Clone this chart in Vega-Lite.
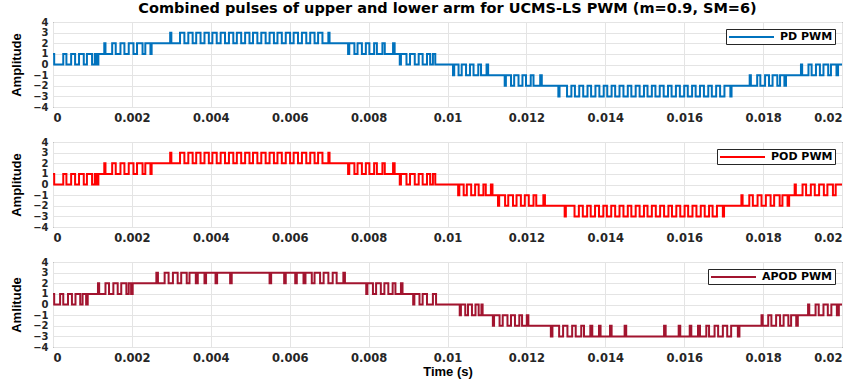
{
  "$schema": "https://vega.github.io/schema/vega-lite/v6.json",
  "autosize": {"type": "pad"},
  "padding": {"left": 10, "top": 0, "right": 3, "bottom": 3},
  "background": "white",
  "spacing": 35,
  "bounds": "flush",
  "resolve": {"scale": {"color": "independent"}, "legend": {"color": "independent"}},
  "config": {
    "view": {"stroke": "#262626", "strokeWidth": 1},
    "axis": {
      "labelFont": "DejaVu Sans", "labelFontWeight": "bold", "labelFontSize": 11.5, "labelColor": "#262626", "labelOverlap": false,
      "titleFont": "Liberation Sans", "titleFontWeight": "bold", "titleFontSize": 13, "titleColor": "#000000",
      "gridColor": "#e4e4e4", "gridWidth": 1, "domain": false, "ticks": false, "labelPadding": 5
    },
    "axisY": {"labelFontSize": 10, "labelPadding": 5},
    "legend": {
      "orient": "top-right", "offset": 7, "title": null,
      "strokeColor": "#262626", "fillColor": "white", "padding": 2, "cornerRadius": 0,
      "symbolType": "M-1,0H8", "symbolSize": 100, "symbolStrokeWidth": 2,
      "labelFont": "DejaVu Sans", "labelFontWeight": "bold", "labelFontSize": 11, "labelColor": "#000000", "labelOffset": 40
    },
    "title": {"font": "DejaVu Sans", "fontSize": 14.5, "fontWeight": "bold", "color": "#000000", "anchor": "middle", "offset": 1}
  },
  "datasets": {
    "pd": [
      {"t":0,"v":1},{"t":0.00003,"v":0},{"t":0.00026,"v":1},{"t":0.00034,"v":0},{"t":0.00046,"v":1},{"t":0.00056,"v":0},
      {"t":0.00066,"v":1},{"t":0.00078,"v":0},{"t":0.00086,"v":1},{"t":0.00099,"v":0},{"t":0.00106,"v":1},{"t":0.00111,"v":0},{"t":0.00115,"v":1},
      {"t":0.0013,"v":2},{"t":0.00133,"v":1},{"t":0.0015,"v":2},{"t":0.00159,"v":1},{"t":0.00171,"v":2},{"t":0.00181,"v":1},
      {"t":0.00192,"v":2},{"t":0.00204,"v":1},{"t":0.00213,"v":2},{"t":0.00227,"v":1},{"t":0.00234,"v":2},{"t":0.00247,"v":1},{"t":0.0025,"v":2},
      {"t":0.00297,"v":3},{"t":0.003,"v":2},
      {"t":0.00322,"v":3},{"t":0.00333,"v":2},{"t":0.00343,"v":3},{"t":0.00354,"v":2},{"t":0.00363,"v":3},{"t":0.00374,"v":2},
      {"t":0.00384,"v":3},{"t":0.00395,"v":2},{"t":0.00404,"v":3},{"t":0.00415,"v":2},{"t":0.00425,"v":3},{"t":0.00436,"v":2},
      {"t":0.00446,"v":3},{"t":0.00457,"v":2},{"t":0.00466,"v":3},{"t":0.00477,"v":2},{"t":0.00487,"v":3},{"t":0.00498,"v":2},
      {"t":0.00507,"v":3},{"t":0.00518,"v":2},{"t":0.00528,"v":3},{"t":0.00539,"v":2},{"t":0.00549,"v":3},{"t":0.0056,"v":2},
      {"t":0.00569,"v":3},{"t":0.0058,"v":2},{"t":0.0059,"v":3},{"t":0.00601,"v":2},{"t":0.0061,"v":3},{"t":0.00621,"v":2},
      {"t":0.00631,"v":3},{"t":0.00642,"v":2},{"t":0.00652,"v":3},{"t":0.00663,"v":2},{"t":0.00672,"v":3},{"t":0.00683,"v":2},
      {"t":0.00698,"v":3},{"t":0.00701,"v":2},
      {"t":0.00748,"v":1},{"t":0.00751,"v":2},{"t":0.00764,"v":1},{"t":0.00772,"v":2},{"t":0.00783,"v":1},{"t":0.00793,"v":2},
      {"t":0.00802,"v":1},{"t":0.00814,"v":2},{"t":0.00821,"v":1},{"t":0.00835,"v":2},{"t":0.00841,"v":1},{"t":0.00862,"v":2},{"t":0.00866,"v":1},
      {"t":0.00879,"v":0},{"t":0.00882,"v":1},{"t":0.00896,"v":0},{"t":0.00905,"v":1},{"t":0.00917,"v":0},{"t":0.00927,"v":1},
      {"t":0.00937,"v":0},{"t":0.00948,"v":1},{"t":0.00956,"v":0},{"t":0.00963,"v":1},{"t":0.00969,"v":0},
      {"t":0.01014,"v":-1},{"t":0.01017,"v":0},{"t":0.01028,"v":-1},{"t":0.01036,"v":0},{"t":0.01047,"v":-1},{"t":0.01057,"v":0},
      {"t":0.01066,"v":-1},{"t":0.01078,"v":0},{"t":0.01085,"v":-1},{"t":0.01099,"v":0},{"t":0.01103,"v":-1},
      {"t":0.01145,"v":-2},{"t":0.01148,"v":-1},{"t":0.01161,"v":-2},{"t":0.01169,"v":-1},{"t":0.0118,"v":-2},{"t":0.0119,"v":-1},
      {"t":0.01199,"v":-2},{"t":0.01211,"v":-1},{"t":0.01218,"v":-2},{"t":0.01235,"v":-1},{"t":0.01239,"v":-2},
      {"t":0.01281,"v":-3},{"t":0.01284,"v":-2},
      {"t":0.01303,"v":-3},{"t":0.01314,"v":-2},{"t":0.01323,"v":-3},{"t":0.01334,"v":-2},{"t":0.01344,"v":-3},{"t":0.01355,"v":-2},
      {"t":0.01364,"v":-3},{"t":0.01375,"v":-2},{"t":0.01385,"v":-3},{"t":0.01396,"v":-2},{"t":0.01405,"v":-3},{"t":0.01416,"v":-2},
      {"t":0.01425,"v":-3},{"t":0.01436,"v":-2},{"t":0.01446,"v":-3},{"t":0.01457,"v":-2},{"t":0.01466,"v":-3},{"t":0.01477,"v":-2},
      {"t":0.01487,"v":-3},{"t":0.01498,"v":-2},{"t":0.01507,"v":-3},{"t":0.01518,"v":-2},{"t":0.01527,"v":-3},{"t":0.01538,"v":-2},
      {"t":0.01548,"v":-3},{"t":0.01559,"v":-2},{"t":0.01568,"v":-3},{"t":0.01579,"v":-2},{"t":0.01589,"v":-3},{"t":0.016,"v":-2},
      {"t":0.01609,"v":-3},{"t":0.0162,"v":-2},{"t":0.01629,"v":-3},{"t":0.0164,"v":-2},{"t":0.0165,"v":-3},{"t":0.01661,"v":-2},
      {"t":0.0167,"v":-3},{"t":0.01681,"v":-2},{"t":0.01691,"v":-3},{"t":0.01702,"v":-2},
      {"t":0.01717,"v":-3},{"t":0.0172,"v":-2},
      {"t":0.01766,"v":-1},{"t":0.01769,"v":-2},{"t":0.01785,"v":-1},{"t":0.01793,"v":-2},{"t":0.01805,"v":-1},{"t":0.01815,"v":-2},
      {"t":0.01824,"v":-1},{"t":0.01836,"v":-2},{"t":0.01843,"v":-1},{"t":0.01854,"v":-2},{"t":0.01858,"v":-1},
      {"t":0.01896,"v":0},{"t":0.01899,"v":-1},{"t":0.01915,"v":0},{"t":0.01923,"v":-1},{"t":0.01934,"v":0},{"t":0.01944,"v":-1},
      {"t":0.01953,"v":0},{"t":0.01965,"v":-1},{"t":0.01972,"v":0},{"t":0.01986,"v":-1},{"t":0.0199,"v":0},{"t":0.02,"v":0}
    ],
    "pod": [
      {"t":0,"v":1},{"t":0.00003,"v":0},{"t":0.00026,"v":1},{"t":0.00034,"v":0},{"t":0.00046,"v":1},{"t":0.00056,"v":0},
      {"t":0.00066,"v":1},{"t":0.00078,"v":0},{"t":0.00086,"v":1},{"t":0.00099,"v":0},{"t":0.00106,"v":1},{"t":0.00111,"v":0},{"t":0.00115,"v":1},
      {"t":0.0013,"v":2},{"t":0.00133,"v":1},{"t":0.0015,"v":2},{"t":0.00159,"v":1},{"t":0.00171,"v":2},{"t":0.00181,"v":1},
      {"t":0.00192,"v":2},{"t":0.00204,"v":1},{"t":0.00213,"v":2},{"t":0.00227,"v":1},{"t":0.00234,"v":2},{"t":0.00247,"v":1},{"t":0.0025,"v":2},
      {"t":0.00297,"v":3},{"t":0.003,"v":2},
      {"t":0.00322,"v":3},{"t":0.00333,"v":2},{"t":0.00343,"v":3},{"t":0.00354,"v":2},{"t":0.00363,"v":3},{"t":0.00374,"v":2},
      {"t":0.00384,"v":3},{"t":0.00395,"v":2},{"t":0.00404,"v":3},{"t":0.00415,"v":2},{"t":0.00425,"v":3},{"t":0.00436,"v":2},
      {"t":0.00446,"v":3},{"t":0.00457,"v":2},{"t":0.00466,"v":3},{"t":0.00477,"v":2},{"t":0.00487,"v":3},{"t":0.00498,"v":2},
      {"t":0.00507,"v":3},{"t":0.00518,"v":2},{"t":0.00528,"v":3},{"t":0.00539,"v":2},{"t":0.00549,"v":3},{"t":0.0056,"v":2},
      {"t":0.00569,"v":3},{"t":0.0058,"v":2},{"t":0.0059,"v":3},{"t":0.00601,"v":2},{"t":0.0061,"v":3},{"t":0.00621,"v":2},
      {"t":0.00631,"v":3},{"t":0.00642,"v":2},{"t":0.00652,"v":3},{"t":0.00663,"v":2},{"t":0.00672,"v":3},{"t":0.00683,"v":2},
      {"t":0.00698,"v":3},{"t":0.00701,"v":2},
      {"t":0.00748,"v":1},{"t":0.00751,"v":2},{"t":0.00764,"v":1},{"t":0.00772,"v":2},{"t":0.00783,"v":1},{"t":0.00793,"v":2},
      {"t":0.00802,"v":1},{"t":0.00814,"v":2},{"t":0.00821,"v":1},{"t":0.00835,"v":2},{"t":0.00841,"v":1},{"t":0.00862,"v":2},{"t":0.00866,"v":1},
      {"t":0.00879,"v":0},{"t":0.00882,"v":1},{"t":0.00896,"v":0},{"t":0.00905,"v":1},{"t":0.00917,"v":0},{"t":0.00927,"v":1},
      {"t":0.00937,"v":0},{"t":0.00948,"v":1},{"t":0.00956,"v":0},{"t":0.00963,"v":1},{"t":0.00969,"v":0},
      {"t":0.01027,"v":-1},{"t":0.0103,"v":0},{"t":0.01041,"v":-1},{"t":0.01049,"v":0},{"t":0.0106,"v":-1},{"t":0.0107,"v":0},
      {"t":0.01079,"v":-1},{"t":0.01091,"v":0},{"t":0.01097,"v":-1},{"t":0.0111,"v":0},{"t":0.01114,"v":-1},
      {"t":0.01128,"v":-2},{"t":0.01131,"v":-1},{"t":0.01146,"v":-2},{"t":0.01154,"v":-1},{"t":0.01166,"v":-2},{"t":0.01175,"v":-1},
      {"t":0.01186,"v":-2},{"t":0.01196,"v":-1},{"t":0.01206,"v":-2},{"t":0.01218,"v":-1},{"t":0.01225,"v":-2},{"t":0.01243,"v":-1},{"t":0.01247,"v":-2},
      {"t":0.01297,"v":-3},{"t":0.013,"v":-2},
      {"t":0.01322,"v":-3},{"t":0.01333,"v":-2},{"t":0.01343,"v":-3},{"t":0.01354,"v":-2},{"t":0.01363,"v":-3},{"t":0.01374,"v":-2},
      {"t":0.01384,"v":-3},{"t":0.01395,"v":-2},{"t":0.01404,"v":-3},{"t":0.01415,"v":-2},{"t":0.01425,"v":-3},{"t":0.01436,"v":-2},
      {"t":0.01446,"v":-3},{"t":0.01457,"v":-2},{"t":0.01466,"v":-3},{"t":0.01477,"v":-2},{"t":0.01487,"v":-3},{"t":0.01498,"v":-2},
      {"t":0.01507,"v":-3},{"t":0.01518,"v":-2},{"t":0.01528,"v":-3},{"t":0.01539,"v":-2},{"t":0.01549,"v":-3},{"t":0.0156,"v":-2},
      {"t":0.01569,"v":-3},{"t":0.0158,"v":-2},{"t":0.0159,"v":-3},{"t":0.01601,"v":-2},{"t":0.0161,"v":-3},{"t":0.01621,"v":-2},
      {"t":0.01631,"v":-3},{"t":0.01642,"v":-2},{"t":0.01652,"v":-3},{"t":0.01663,"v":-2},{"t":0.01672,"v":-3},{"t":0.01683,"v":-2},
      {"t":0.01698,"v":-3},{"t":0.01701,"v":-2},
      {"t":0.01745,"v":-1},{"t":0.01748,"v":-2},{"t":0.01765,"v":-1},{"t":0.01774,"v":-2},{"t":0.01786,"v":-1},{"t":0.01796,"v":-2},
      {"t":0.01807,"v":-1},{"t":0.01819,"v":-2},{"t":0.01828,"v":-1},{"t":0.01842,"v":-2},{"t":0.01849,"v":-1},{"t":0.01862,"v":-2},{"t":0.01866,"v":-1},
      {"t":0.0188,"v":0},{"t":0.01883,"v":-1},{"t":0.019,"v":0},{"t":0.01909,"v":-1},{"t":0.01921,"v":0},{"t":0.01931,"v":-1},
      {"t":0.01942,"v":0},{"t":0.01954,"v":-1},{"t":0.01963,"v":0},{"t":0.01977,"v":-1},{"t":0.01984,"v":0},{"t":0.02,"v":0}
    ],
    "apod": [
      {"t":0,"v":1},{"t":0.00003,"v":0},{"t":0.00018,"v":1},{"t":0.00026,"v":0},{"t":0.00038,"v":1},{"t":0.00048,"v":0},
      {"t":0.00057,"v":1},{"t":0.00069,"v":0},{"t":0.00075,"v":1},{"t":0.00084,"v":0},{"t":0.00088,"v":1},
      {"t":0.00114,"v":2},{"t":0.00117,"v":1},{"t":0.00133,"v":2},{"t":0.00142,"v":1},{"t":0.00153,"v":2},{"t":0.00164,"v":1},
      {"t":0.00173,"v":2},{"t":0.00186,"v":1},{"t":0.00192,"v":2},{"t":0.00198,"v":1},{"t":0.00202,"v":2},
      {"t":0.00262,"v":3},{"t":0.00266,"v":2},{"t":0.00283,"v":3},{"t":0.00293,"v":2},{"t":0.00304,"v":3},{"t":0.00316,"v":2},
      {"t":0.00325,"v":3},{"t":0.00339,"v":2},{"t":0.00346,"v":3},{"t":0.00362,"v":2},{"t":0.00367,"v":3},{"t":0.00384,"v":2},
      {"t":0.00388,"v":3},{"t":0.00412,"v":2},{"t":0.00416,"v":3},{"t":0.00449,"v":2},{"t":0.00453,"v":3},
      {"t":0.00549,"v":2},{"t":0.00553,"v":3},{"t":0.00586,"v":2},{"t":0.0059,"v":3},{"t":0.00614,"v":2},{"t":0.00618,"v":3},
      {"t":0.00635,"v":2},{"t":0.0064,"v":3},{"t":0.00656,"v":2},{"t":0.00663,"v":3},{"t":0.00677,"v":2},{"t":0.00686,"v":3},
      {"t":0.00698,"v":2},{"t":0.00709,"v":3},{"t":0.00719,"v":2},{"t":0.00736,"v":3},{"t":0.0074,"v":2},
      {"t":0.00794,"v":1},{"t":0.00797,"v":2},{"t":0.00811,"v":1},{"t":0.00819,"v":2},{"t":0.00831,"v":1},{"t":0.0084,"v":2},
      {"t":0.0085,"v":1},{"t":0.00861,"v":2},{"t":0.00868,"v":1},{"t":0.00882,"v":2},{"t":0.00886,"v":1},
      {"t":0.00913,"v":0},{"t":0.00916,"v":1},{"t":0.00929,"v":0},{"t":0.00937,"v":1},{"t":0.00948,"v":0},{"t":0.00963,"v":1},{"t":0.00971,"v":0},
      {"t":0.01031,"v":-1},{"t":0.01034,"v":0},{"t":0.01045,"v":-1},{"t":0.01052,"v":0},{"t":0.01062,"v":-1},{"t":0.01071,"v":0},
      {"t":0.01079,"v":-1},{"t":0.01086,"v":0},{"t":0.01089,"v":-1},
      {"t":0.01115,"v":-2},{"t":0.01118,"v":-1},{"t":0.01132,"v":-2},{"t":0.0114,"v":-1},{"t":0.01152,"v":-2},{"t":0.01161,"v":-1},
      {"t":0.01171,"v":-2},{"t":0.01182,"v":-1},{"t":0.01189,"v":-2},{"t":0.01201,"v":-1},{"t":0.01205,"v":-2},
      {"t":0.01262,"v":-3},{"t":0.01266,"v":-2},{"t":0.01283,"v":-3},{"t":0.01293,"v":-2},{"t":0.01304,"v":-3},{"t":0.01316,"v":-2},
      {"t":0.01325,"v":-3},{"t":0.01339,"v":-2},{"t":0.01346,"v":-3},{"t":0.01362,"v":-2},{"t":0.01367,"v":-3},{"t":0.01384,"v":-2},
      {"t":0.01388,"v":-3},{"t":0.01412,"v":-2},{"t":0.01416,"v":-3},{"t":0.01449,"v":-2},{"t":0.01453,"v":-3},
      {"t":0.01549,"v":-2},{"t":0.01553,"v":-3},{"t":0.01586,"v":-2},{"t":0.0159,"v":-3},{"t":0.01614,"v":-2},{"t":0.01618,"v":-3},
      {"t":0.01635,"v":-2},{"t":0.0164,"v":-3},{"t":0.01656,"v":-2},{"t":0.01663,"v":-3},{"t":0.01677,"v":-2},{"t":0.01686,"v":-3},
      {"t":0.01698,"v":-2},{"t":0.01709,"v":-3},{"t":0.01719,"v":-2},{"t":0.01736,"v":-3},{"t":0.0174,"v":-2},
      {"t":0.01796,"v":-1},{"t":0.01799,"v":-2},{"t":0.01813,"v":-1},{"t":0.01821,"v":-2},{"t":0.01833,"v":-1},{"t":0.01843,"v":-2},
      {"t":0.01852,"v":-1},{"t":0.01864,"v":-2},{"t":0.01871,"v":-1},{"t":0.01884,"v":-2},{"t":0.01888,"v":-1},
      {"t":0.01914,"v":0},{"t":0.01917,"v":-1},{"t":0.01933,"v":0},{"t":0.01941,"v":-1},{"t":0.01953,"v":0},{"t":0.01964,"v":-1},
      {"t":0.01973,"v":0},{"t":0.01987,"v":-1},{"t":0.01992,"v":0},{"t":0.02,"v":0}
    ]
  },
  "vconcat": [
    {
      "title": {"text": "Combined pulses of upper and lower arm for UCMS-LS PWM (m=0.9, SM=6)"},
      "width": 789, "height": 85,
      "data": {"name": "pd"},
      "mark": {"type": "line", "interpolate": "step-after", "strokeWidth": 2, "clip": true},
      "encoding": {
        "x": {"field": "t", "type": "quantitative", "scale": {"domain": [0, 0.02], "nice": false, "zero": false},
              "axis": {"values": [0, 0.002, 0.004, 0.006, 0.008, 0.01, 0.012, 0.014, 0.016, 0.018, 0.02], "format": "~g", "title": null}},
        "y": {"field": "v", "type": "quantitative", "scale": {"domain": [-4, 4], "nice": false},
              "axis": {"values": [-4, -3, -2, -1, 0, 1, 2, 3, 4], "title": "Amplitude", "titlePadding": 9}},
        "color": {"datum": "PD PWM", "type": "nominal", "scale": {"range": ["#0072BD"]}}
      }
    },
    {
      "width": 789, "height": 85,
      "data": {"name": "pod"},
      "mark": {"type": "line", "interpolate": "step-after", "strokeWidth": 2, "clip": true},
      "encoding": {
        "x": {"field": "t", "type": "quantitative", "scale": {"domain": [0, 0.02], "nice": false, "zero": false},
              "axis": {"values": [0, 0.002, 0.004, 0.006, 0.008, 0.01, 0.012, 0.014, 0.016, 0.018, 0.02], "format": "~g", "title": null}},
        "y": {"field": "v", "type": "quantitative", "scale": {"domain": [-4, 4], "nice": false},
              "axis": {"values": [-4, -3, -2, -1, 0, 1, 2, 3, 4], "title": "Amplitude", "titlePadding": 9}},
        "color": {"datum": "POD PWM", "type": "nominal", "scale": {"range": ["#FF0000"]}}
      }
    },
    {
      "width": 789, "height": 85,
      "data": {"name": "apod"},
      "mark": {"type": "line", "interpolate": "step-after", "strokeWidth": 2, "clip": true},
      "encoding": {
        "x": {"field": "t", "type": "quantitative", "scale": {"domain": [0, 0.02], "nice": false, "zero": false},
              "axis": {"values": [0, 0.002, 0.004, 0.006, 0.008, 0.01, 0.012, 0.014, 0.016, 0.018, 0.02], "format": "~g", "title": "Time (s)", "titlePadding": 2}},
        "y": {"field": "v", "type": "quantitative", "scale": {"domain": [-4, 4], "nice": false},
              "axis": {"values": [-4, -3, -2, -1, 0, 1, 2, 3, 4], "title": "Amlitude", "titlePadding": 9}},
        "color": {"datum": "APOD PWM", "type": "nominal", "scale": {"range": ["#A2142F"]}}
      }
    }
  ]
}
